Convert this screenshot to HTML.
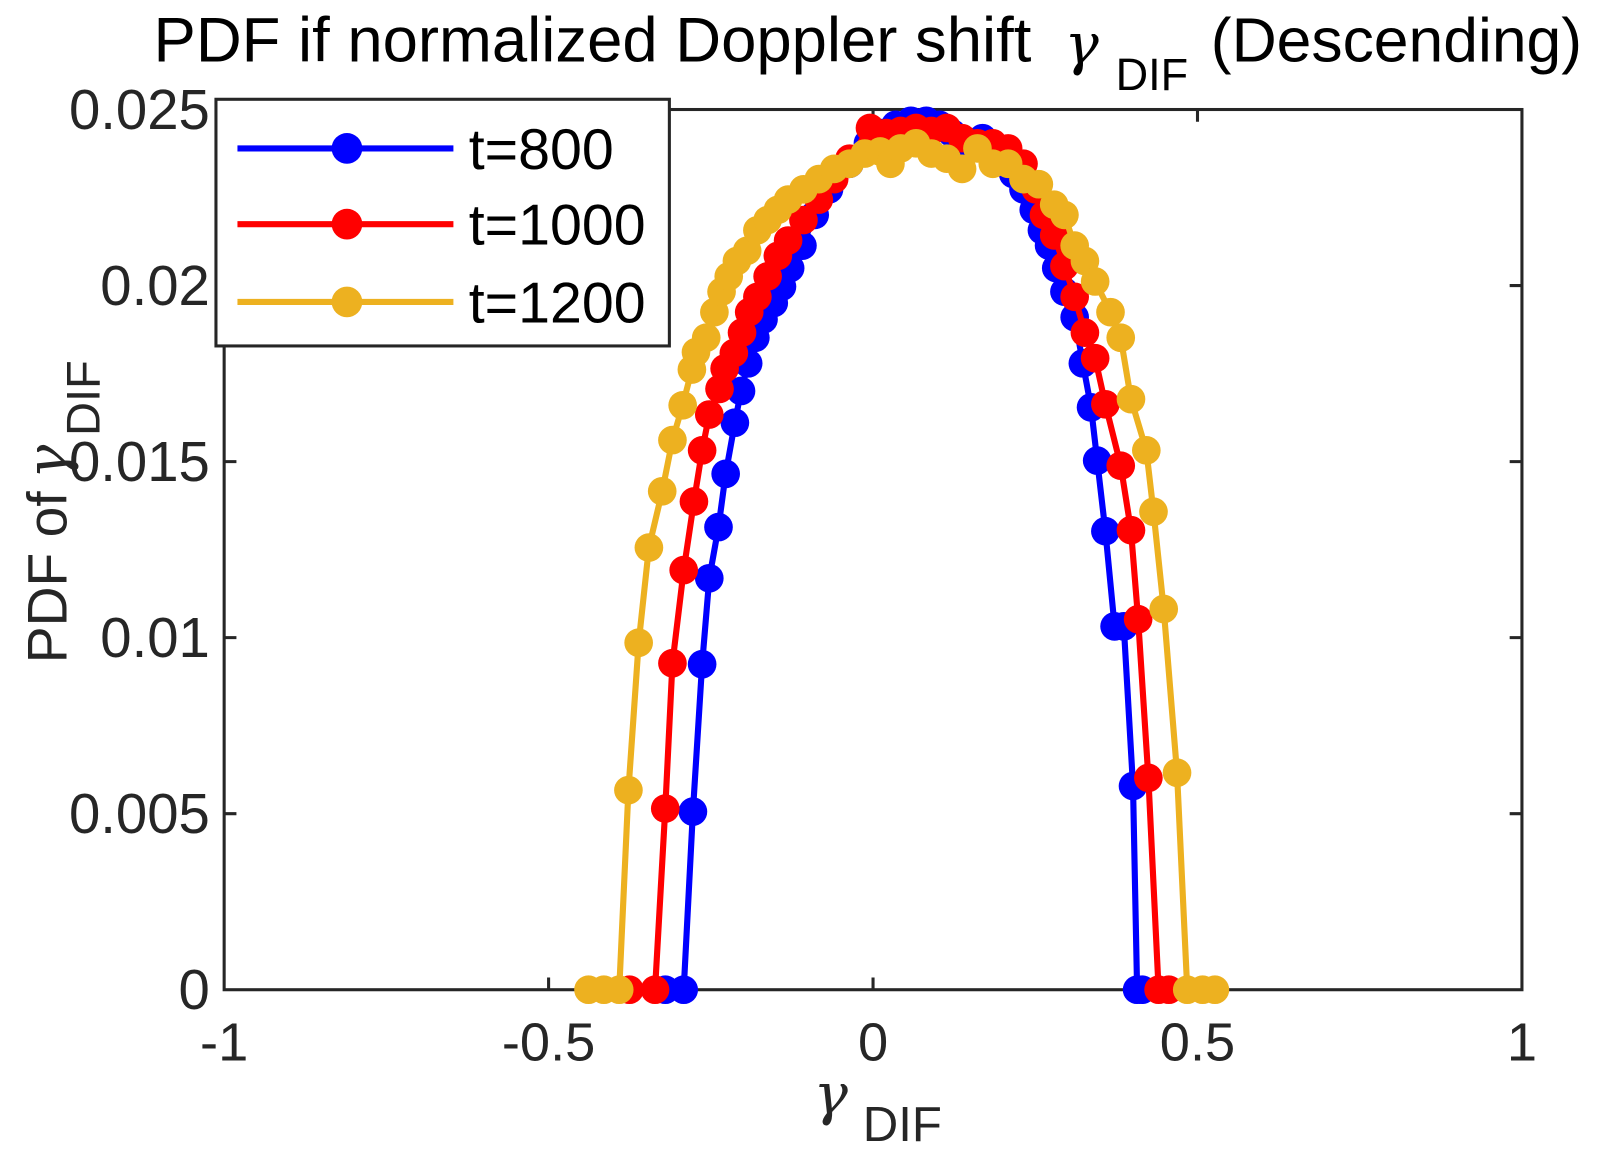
<!DOCTYPE html>
<html><head><style>
html,body{margin:0;padding:0;background:#fff;}
svg{display:block;font-family:"Liberation Sans",Arial,sans-serif;}
</style></head><body>
<svg width="1604" height="1161" viewBox="0 0 1604 1161" xmlns="http://www.w3.org/2000/svg">
<rect width="1604" height="1161" fill="#fff"/>
<g transform="scale(1.0235)">
<g stroke="#262626" stroke-width="3" fill="none">
<rect x="219" y="107" width="1268" height="860"/>
<path d="M536 967v-12M853 967v-12M1170 967v-12M536 107v12M853 107v12M1170 107v12M219 795h12M219 623h12M219 451h12M219 279h12M1487 795h-12M1487 623h-12M1487 451h-12M1487 279h-12"/>
</g>
<g font-size="53" fill="#262626" text-anchor="middle">
<text x="219" y="1036">-1</text><text x="536" y="1036">-0.5</text><text x="853" y="1036">0</text><text x="1170" y="1036">0.5</text><text x="1487" y="1036">1</text>
</g>
<g font-size="55" fill="#262626" text-anchor="end">
<text x="205" y="986">0</text><text x="205" y="814">0.005</text><text x="205" y="642">0.01</text><text x="205" y="470">0.015</text><text x="205" y="298">0.02</text><text x="205" y="126">0.025</text>
</g>
<text x="150" y="60" font-size="62" fill="#000">PDF if normalized Doppler shift</text>
<text x="1040" y="62" font-size="56" fill="#000" font-family="DejaVu Serif,serif" font-style="italic">γ</text>
<text x="1090" y="88" font-size="44" fill="#000">DIF</text>
<text x="1183" y="60" font-size="61" fill="#000">(Descending)</text>
<text x="795" y="1088" font-size="56" fill="#262626" font-family="DejaVu Serif,serif" font-style="italic">γ</text>
<text x="843" y="1115" font-size="48" fill="#262626">DIF</text>
<g transform="translate(65,648) rotate(-90)" fill="#262626">
<text x="0" y="0" font-size="54">PDF of</text>
<text x="180" y="0" font-size="56" font-family="DejaVu Serif,serif" font-style="italic">γ</text>
<text x="222" y="32" font-size="46">DIF</text>
</g>
<g id="plots" stroke-width="6" fill="none" stroke-linejoin="round"></g>
<rect x="211" y="97" width="443" height="241" fill="#fff" stroke="#262626" stroke-width="3"/>
<g stroke-width="6">
<line x1="232" y1="145" x2="443" y2="145" stroke="#0000ff"/><circle cx="339" cy="145" r="15" fill="#0000ff"/>
<line x1="232" y1="219" x2="443" y2="219" stroke="#ff0000"/><circle cx="339" cy="219" r="15" fill="#ff0000"/>
<line x1="232" y1="295" x2="443" y2="295" stroke="#edb120"/><circle cx="339" cy="295" r="15" fill="#edb120"/>
</g>
<g font-size="56" fill="#000"><text x="458" y="165">t=800</text><text x="458" y="239">t=1000</text><text x="458" y="315">t=1200</text></g>
</g>
</svg>
<script>
var S=[["#0000ff",[[650,967],[668,967],[677,793],[686,649],[693,565],[702,515],[709,463],[718,413],[724,382],[731,355],[738,330],[746,312],[756,296],[764,280],[772,262],[784,240],[796,210],[810,185],[830,160],[848,140],[862,130],[875,122],[890,118],[905,118],[918,122],[930,130],[945,140],[960,135],[975,150],[990,170],[1000,185],[1010,205],[1018,225],[1025,240],[1032,262],[1040,285],[1050,310],[1058,355],[1066,398],[1072,450],[1080,519],[1089,612],[1098,612],[1107,768],[1111,967],[1116,967]]],
["#ff0000",[[615,967],[640,967],[650,790],[657,648],[668,557],[678,490],[686,440],[693,405],[703,380],[708,360],[717,345],[725,325],[732,305],[740,290],[750,270],[760,250],[770,235],[785,215],[800,195],[815,175],[830,155],[850,125],[866,130],[880,128],[895,125],[910,128],[925,125],[940,135],[955,140],[970,140],[985,145],[1000,160],[1012,185],[1020,210],[1030,230],[1040,260],[1050,290],[1060,325],[1070,350],[1080,395],[1095,455],[1105,518],[1112,605],[1122,760],[1132,967],[1142,967]]],
["#edb120",[[575,967],[590,967],[605,967],[614,772],[624,628],[634,535],[647,480],[657,430],[667,396],[676,361],[680,344],[690,330],[698,305],[705,285],[712,270],[720,255],[730,245],[740,225],[750,215],[760,205],[770,195],[785,185],[800,175],[815,165],[830,160],[845,150],[860,148],[870,160],[880,145],[895,140],[910,150],[925,155],[940,165],[955,145],[970,160],[985,160],[1000,175],[1015,180],[1030,200],[1040,210],[1050,240],[1060,255],[1070,275],[1085,305],[1095,330],[1105,390],[1120,440],[1127,500],[1137,595],[1150,755],[1160,967],[1175,967],[1187,967]]]];
var g=document.getElementById("plots"),h="";
S.forEach(function(s){h+='<polyline stroke="'+s[0]+'" points="'+s[1].map(function(p){return p.join(",")}).join(" ")+'"/>';
s[1].forEach(function(p){h+='<circle cx="'+p[0]+'" cy="'+p[1]+'" r="14" fill="'+s[0]+'" stroke="none"/>';});});
g.innerHTML=h;
</script>
</body></html>
